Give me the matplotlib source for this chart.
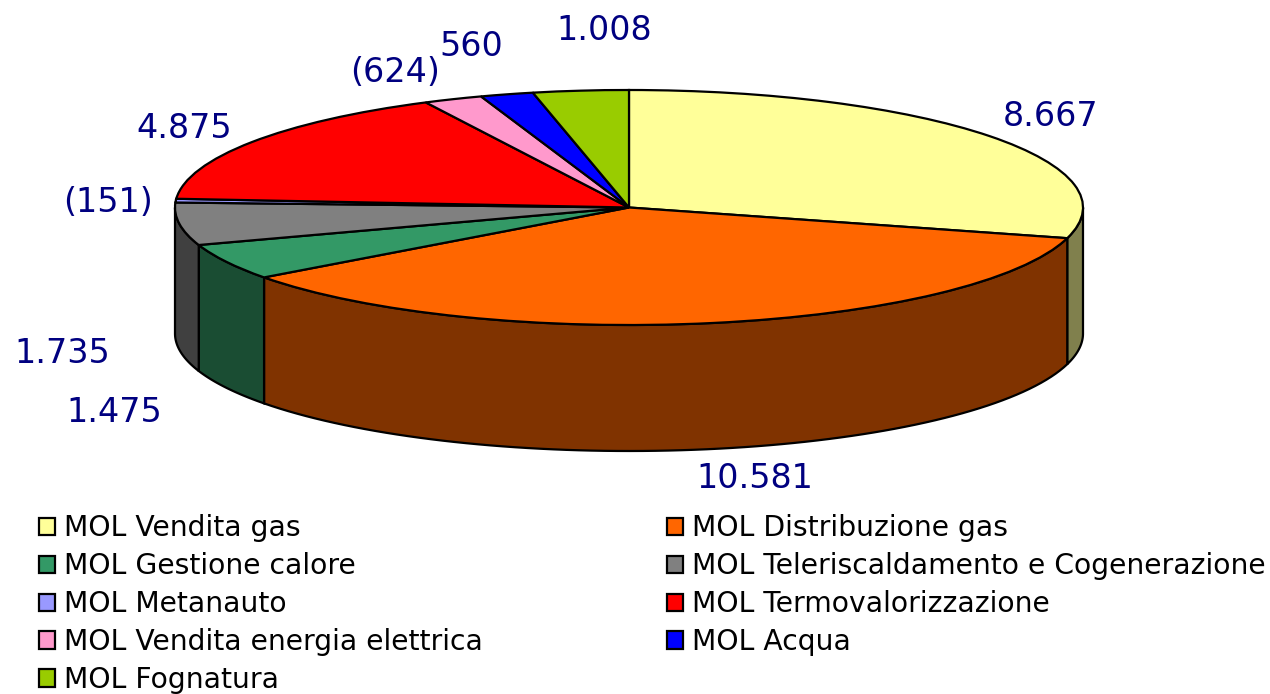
import numpy as np
import matplotlib
matplotlib.use("Agg")
import matplotlib.pyplot as plt
from matplotlib.colors import to_rgb

# dati del grafico (MOL per business unit)
categories = ["MOL Vendita gas", "MOL Distribuzione gas", "MOL Gestione calore",
              "MOL Teleriscaldamento e Cogenerazione", "MOL Metanauto",
              "MOL Termovalorizzazione", "MOL Vendita energia elettrica",
              "MOL Acqua", "MOL Fognatura"]
values = [8667, 10581, 1475, 1735, 151, 4875, 624, 560, 1008]
value_labels = ["8.667", "10.581", "1.475", "1.735", "(151)", "4.875", "(624)", "560", "1.008"]
colors = ["#FFFF99", "#FF6600", "#339966", "#808080", "#9999FF",
          "#FF0000", "#FF99CC", "#0000FF", "#99CC00"]

W, H = 1270, 694
cx, cy = 629, 207.5   # centro ellisse in pixel
rx, ry = 454, 117.5
depth = 126 / ry

# posizione etichette in pixel
label_pos = [(1051, 117), (755, 479), (114, 412), (62, 354), (108, 202),
             (184, 129), (395, 72), (471, 46), (604, 31)]

fig = plt.figure(figsize=(W / 100, H / 100), dpi=100)
ax = fig.add_axes([0, 0, 1, 1])

wedges, _ = ax.pie(values, colors=colors, startangle=90, counterclock=False,
                   wedgeprops=dict(edgecolor="black", linewidth=1.6))
ax.set_aspect("auto")
ax.set_xlim(-cx / rx, (W - cx) / rx)
ax.set_ylim(-(H - cy) / ry, cy / ry)

# pareti laterali: solo la parte frontale della torta
edges = np.concatenate([[0], np.cumsum(values)]) / sum(values) * 360
for i, col in enumerate(colors):
    a = max(edges[i], 90)
    b = min(edges[i + 1], 270)
    if a >= b:
        continue
    t = np.radians(90 - np.linspace(a, b, 80))
    x = np.cos(t)
    y = np.sin(t)
    dark = tuple(c * 0.5 for c in to_rgb(col))
    ax.fill(np.r_[x, x[::-1]], np.r_[y, y[::-1] - depth], facecolor=dark,
            edgecolor="black", linewidth=1.6, zorder=0.5)

for lab, (px, py) in zip(value_labels, label_pos):
    fig.text(px / W, 1 - py / H, lab, color="#000080", fontsize=24,
             ha="center", va="center")

# legenda su due colonne, ordine per righe
order = [0, 2, 4, 6, 8, 1, 3, 5, 7]
fig.legend([wedges[i] for i in order], [categories[i] for i in order],
           ncol=2, loc="upper left", bbox_to_anchor=(39 / W, 1 - 514.5 / H),
           frameon=False, fontsize=20.3, borderpad=0, borderaxespad=0,
           handlelength=0.58, handleheight=0.58, handletextpad=0.32,
           labelspacing=0.35, columnspacing=6.52)

fig.savefig("out.png", dpi=100)
